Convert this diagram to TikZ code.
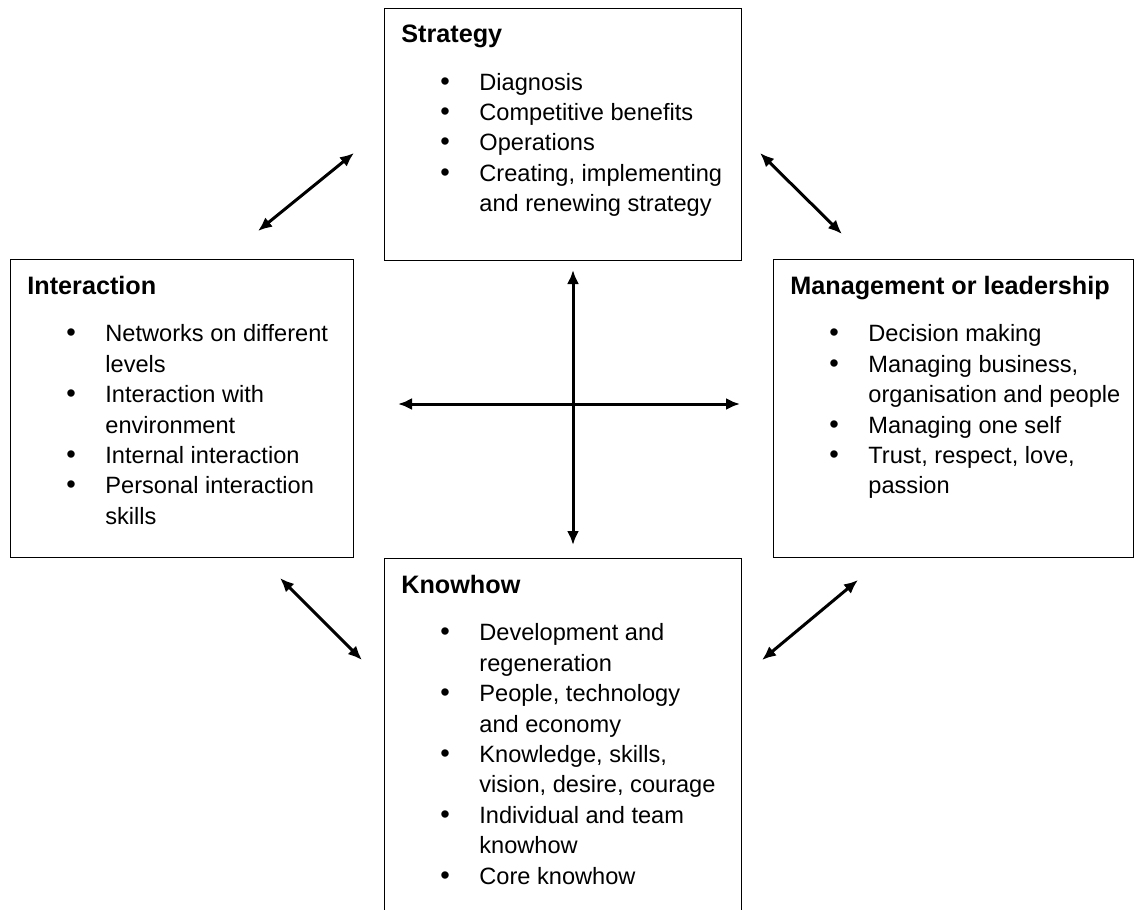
\documentclass[tikz,border=0pt]{standalone}
\usepackage{fontspec}
\setmainfont{Liberation Sans}
\usetikzlibrary{arrows.meta, positioning}
\newcommand\bitem[1]{\hspace*{19.5pt}\makebox[19.5pt][l]{\scalebox{1.15}{\textbullet}}#1}
\newcommand\bcont[1]{\hspace*{39pt}#1}
\newcommand\btitle[1]{{\fontsize{12.6}{15.2}\selectfont\bfseries #1}}

\begin{document}
\begin{tikzpicture}[
    x=0.5pt, y=-0.5pt,
    panel/.style={draw=black, line width=0.6pt, anchor=north west, inner sep=0pt},
    paneltext/.style={anchor=north west, inner sep=0pt, align=left,
      font=\fontsize{11.8}{15.2}\selectfont},
    link/.style={line width=1.5pt, {Latex[length=7pt,width=6pt]}-{Latex[length=7pt,width=6pt]}}
]
  \useasboundingbox (0,0) rectangle (1141,910);
  \clip (0,0) rectangle (1141,910);

  % 1. Boxes
  \node[panel, minimum width=178.5pt, minimum height=126pt] (strat) at (384,8) {};
  \node[panel, minimum width=171.5pt, minimum height=149pt] (inter) at (10,259) {};
  \node[panel, minimum width=180pt, minimum height=149pt] (mgmt) at (773,259) {};
  \node[panel, minimum width=178.5pt, minimum height=190pt] (know) at (384,558) {};

  % 2. Box contents
  \node[paneltext, below right=8.3pt and 8.5pt of strat.north west] (strattext) {%
    \btitle{Strategy}\\[8.6pt]
    \bitem{Diagnosis}\\
    \bitem{Competitive benefits}\\
    \bitem{Operations}\\
    \bitem{Creating, implementing}\\
    \bcont{and renewing strategy}};
  \node[paneltext, below right=8.3pt and 8.5pt of inter.north west] (intertext) {%
    \btitle{Interaction}\\[8.6pt]
    \bitem{Networks on different}\\
    \bcont{levels}\\
    \bitem{Interaction with}\\
    \bcont{environment}\\
    \bitem{Internal interaction}\\
    \bitem{Personal interaction}\\
    \bcont{skills}};
  \node[paneltext, below right=8.3pt and 8.5pt of mgmt.north west] (mgmttext) {%
    \btitle{Management or leadership}\\[8.6pt]
    \bitem{Decision making}\\
    \bitem{Managing business,}\\
    \bcont{organisation and people}\\
    \bitem{Managing one self}\\
    \bitem{Trust, respect, love,}\\
    \bcont{passion}};
  \node[paneltext, below right=8.3pt and 8.5pt of know.north west] (knowtext) {%
    \btitle{Knowhow}\\[8.6pt]
    \bitem{Development and}\\
    \bcont{regeneration}\\
    \bitem{People, technology}\\
    \bcont{and economy}\\
    \bitem{Knowledge, skills,}\\
    \bcont{vision, desire, courage}\\
    \bitem{Individual and team}\\
    \bcont{knowhow}\\
    \bitem{Core knowhow}};

  % 3. Arrow ends
  \coordinate (vtop) at (573,270);
  \coordinate (vbot) at (573,545);
  \coordinate (hleft) at (398,404);
  \coordinate (hright) at (740,404);
  \coordinate (tla) at (258,231);
  \coordinate (tlb) at (354,153);
  \coordinate (tra) at (760,153);
  \coordinate (trb) at (842,234);
  \coordinate (bla) at (280,578);
  \coordinate (blb) at (362,660);
  \coordinate (bra) at (762,660);
  \coordinate (brb) at (858,580);

  % 4. Arrows
  \draw[link] (vtop) -- (vbot);
  \draw[link] (hleft) -- (hright);
  \draw[link] (tla) -- (tlb);
  \draw[link] (tra) -- (trb);
  \draw[link] (bla) -- (blb);
  \draw[link] (bra) -- (brb);

\end{tikzpicture}
\end{document}
